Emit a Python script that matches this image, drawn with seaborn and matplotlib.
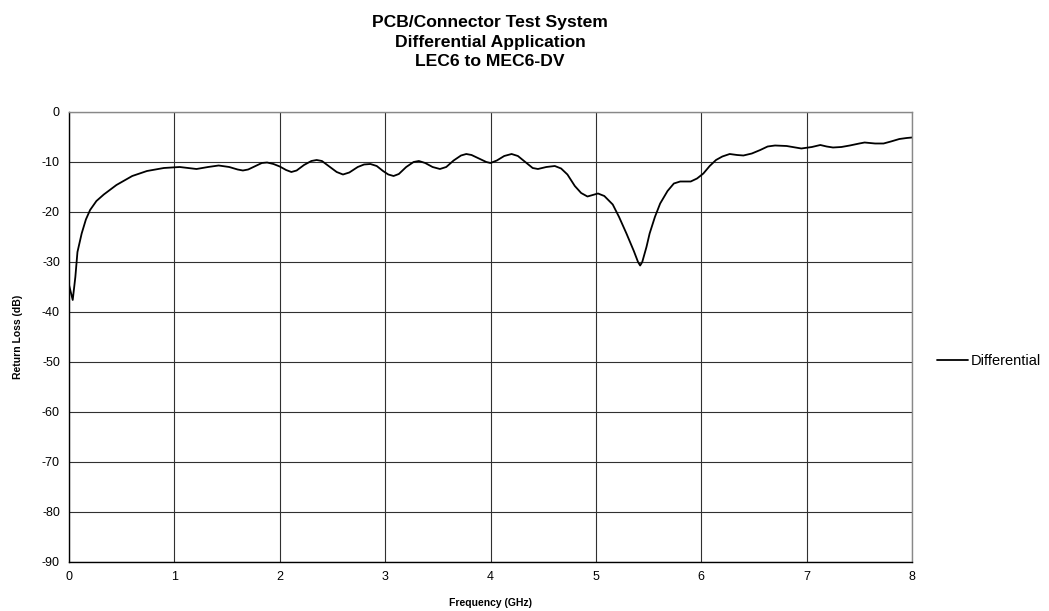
import numpy as np
import pandas as pd
import matplotlib
matplotlib.use("Agg")
import matplotlib.pyplot as plt
import seaborn as sns

# values
freq_ghz = [0.0, 0.035, 0.06, 0.08, 0.12, 0.16, 0.2, 0.26, 0.33, 0.45, 0.6,
            0.74, 0.9, 1.05, 1.21, 1.32, 1.42, 1.52, 1.6, 1.65, 1.7, 1.77,
            1.83, 1.88, 1.94, 2.0, 2.06, 2.11, 2.16, 2.23, 2.3, 2.35, 2.4,
            2.47, 2.54, 2.6, 2.66, 2.74, 2.8, 2.86, 2.92, 2.98, 3.03, 3.08,
            3.13, 3.2, 3.27, 3.32, 3.38, 3.45, 3.52, 3.58, 3.65, 3.72, 3.77,
            3.82, 3.9, 3.96, 4.0, 4.06, 4.13, 4.2, 4.26, 4.33, 4.4, 4.45,
            4.53, 4.61, 4.67, 4.73, 4.8, 4.86, 4.92, 4.97, 5.02, 5.08, 5.16,
            5.22, 5.29, 5.36, 5.4, 5.42, 5.44, 5.48, 5.51, 5.56, 5.61, 5.68,
            5.74, 5.8, 5.9, 5.96, 6.02, 6.08, 6.14, 6.2, 6.27, 6.34, 6.4,
            6.48, 6.56, 6.63, 6.7, 6.81, 6.95, 7.05, 7.13, 7.19, 7.25, 7.33,
            7.41, 7.5, 7.55, 7.65, 7.73, 7.8, 7.88, 7.95, 8.0]
return_loss = [-34.6, -37.6, -33.0, -28.0, -24.3, -21.5, -19.6, -17.8, -16.5,
               -14.6, -12.8, -11.8, -11.2, -11.0, -11.4, -11.0, -10.7, -11.0,
               -11.5, -11.7, -11.5, -10.8, -10.2, -10.1, -10.4, -10.9, -11.6,
               -12.0, -11.7, -10.6, -9.8, -9.6, -9.8, -10.9, -12.0, -12.5,
               -12.1, -11.0, -10.5, -10.4, -10.8, -11.8, -12.5, -12.8, -12.4,
               -11.0, -10.0, -9.8, -10.2, -11.0, -11.4, -11.0, -9.7, -8.7,
               -8.4, -8.6, -9.4, -10.0, -10.2, -9.7, -8.8, -8.4, -8.8, -10.0,
               -11.2, -11.4, -11.0, -10.8, -11.3, -12.5, -14.8, -16.2, -16.9,
               -16.6, -16.3, -16.8, -18.5, -21.0, -24.3, -27.8, -30.0, -30.7,
               -30.0, -27.0, -24.3, -21.0, -18.3, -15.8, -14.3, -13.9, -13.9,
               -13.3, -12.3, -10.8, -9.6, -8.9, -8.4, -8.6, -8.7, -8.3, -7.6,
               -6.9, -6.7, -6.8, -7.3, -7.0, -6.6, -6.9, -7.1, -7.0, -6.7,
               -6.3, -6.1, -6.3, -6.3, -5.9, -5.4, -5.2, -5.1]
series_name = "Differential"

df = pd.DataFrame({"freq": freq_ghz, "rl": return_loss, "series": series_name})

sns.set_style("white")
plt.rcParams['font.family'] = ['Liberation Sans', 'DejaVu Sans']
plt.rcParams['axes.unicode_minus'] = False
plt.rcParams['text.color'] = 'black'

fig = plt.figure(figsize=(10.49, 6.11), dpi=100)
ax = fig.add_axes([0.0658, 0.0802, 0.8036, 0.7365])

sns.lineplot(data=df, x="freq", y="rl", hue="series", palette=["black"],
             linewidth=1.3, ax=ax, legend=False)

ax.set_xlim(0, 8)
ax.set_ylim(-90, 0)
ax.set_xticks(range(0, 9))
ax.set_yticks(range(-90, 1, 10))
ax.grid(True, color="#303030", linewidth=0.8)
ax.tick_params(axis="both", direction="inout", length=6, width=0.8,
               labelsize=9, colors="black")
for side in ["left", "bottom"]:
    ax.spines[side].set_color("black")
    ax.spines[side].set_linewidth(1.0)
for side in ["top", "right"]:
    ax.spines[side].set_color("#888888")
    ax.spines[side].set_linewidth(1.0)

ax.set_xlabel("Frequency (GHz)", fontsize=7.5, fontweight="bold",
              labelpad=11, color="black")
ax.set_ylabel("Return Loss (dB)", fontsize=7.5, fontweight="bold",
              labelpad=14, color="black")

fig.text(0.467, 0.931, "PCB/Connector Test System\nDifferential Application\nLEC6 to MEC6-DV",
         ha="center", va="center", fontsize=12.6, fontweight="bold",
         linespacing=1.38, color="black")

# legend on the right
leg_handle = plt.Line2D([], [], color="black", linewidth=1.3)
fig.legend([leg_handle], [series_name], loc="center left",
           bbox_to_anchor=(0.881, 0.409), frameon=False, fontsize=10.5,
           handlelength=2.1, handletextpad=0.2)

fig.savefig("out.png", dpi=100)
